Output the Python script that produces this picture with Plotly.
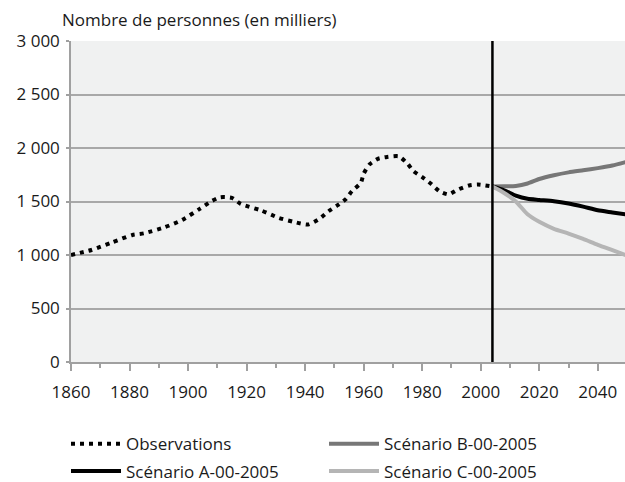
import plotly.graph_objects as go

obs_years = [1860, 1867, 1874, 1881, 1885, 1892, 1898, 1904, 1908, 1911, 1915, 1918, 1925, 1931, 1936, 1941, 1945, 1948, 1951, 1954, 1956, 1959, 1960, 1962, 1965, 1968, 1972, 1975, 1977, 1980, 1983, 1986, 1989, 1992, 1996, 1999, 2004]
obs_vals = [1000, 1047, 1118, 1187, 1203, 1259, 1328, 1431, 1503, 1540, 1534, 1478, 1416, 1347, 1310, 1285, 1340, 1409, 1463, 1525, 1597, 1672, 1760, 1847, 1900, 1916, 1922, 1853, 1784, 1728, 1666, 1594, 1566, 1609, 1650, 1659, 1640]

proj_years = [2004, 2008, 2012, 2016, 2020, 2025, 2030, 2035, 2040, 2045, 2050]
scen_a = [1640, 1605, 1555, 1525, 1515, 1503, 1482, 1452, 1418, 1398, 1378]
scen_b = [1640, 1642, 1645, 1668, 1710, 1745, 1772, 1792, 1812, 1836, 1872]
scen_c = [1640, 1580, 1500, 1380, 1310, 1245, 1200, 1150, 1095, 1045, 995]

base_year = 2004
y_title = "Nombre de personnes (en milliers)"

FONT = "Open Sans"
FS = 17
fig = go.Figure()

fig.add_trace(go.Scatter(x=obs_years, y=obs_vals, mode="lines", name="Observations", legend="legend",
                         line=dict(color="black", width=4, dash="4px,5px", shape="spline", smoothing=0.6)))
fig.add_trace(go.Scatter(x=proj_years, y=scen_b, mode="lines", name="Scénario B-00-2005", legend="legend",
                         line=dict(color="#777777", width=4, shape="spline", smoothing=0.6)))
fig.add_trace(go.Scatter(x=proj_years, y=scen_a, mode="lines", name="Scénario A-00-2005", legend="legend2",
                         line=dict(color="black", width=4, shape="spline", smoothing=0.6)))
fig.add_trace(go.Scatter(x=proj_years, y=scen_c, mode="lines", name="Scénario C-00-2005", legend="legend2",
                         line=dict(color="#b5b5b5", width=4, shape="spline", smoothing=0.6)))

fig.add_shape(type="line", x0=base_year, x1=base_year, y0=0, y1=3000, xref="x", yref="y",
              line=dict(color="black", width=2.5))

fig.add_annotation(text=y_title, xref="paper", yref="paper", x=-0.02, y=1.025,
                   xanchor="left", yanchor="bottom", showarrow=False,
                   font=dict(family=FONT, size=FS, color="#1a1a1a"))

leg_common = dict(orientation="h", xanchor="left", yanchor="top",
                  xref="container", yref="container",
                  entrywidth=193, entrywidthmode="pixels", itemwidth=50,
                  font=dict(family=FONT, size=FS, color="#1a1a1a"),
                  bgcolor="rgba(0,0,0,0)")

fig.update_layout(
    width=625, height=482,
    margin=dict(l=71, r=0, t=41, b=120, autoexpand=False),
    paper_bgcolor="white", plot_bgcolor="#f0f1f1",
    separators=". ",
    font=dict(family=FONT, size=FS, color="#1a1a1a"),
    showlegend=True,
    legend=dict(x=66 / 625, y=0.116, **leg_common),
    legend2=dict(x=66 / 625, y=0.059, **leg_common),
)
fig.update_xaxes(range=[1860, 2049.3], dtick=20, tick0=1860, showgrid=False, zeroline=False,
                 showline=True, linecolor="#a0a0a0", linewidth=1.5,
                 ticks="outside", ticklen=7, tickcolor="#a0a0a0", tickwidth=1.5,
                 ticklabelstandoff=7,
                 minor=dict(dtick=10, tick0=1860, ticks="outside", ticklen=4, tickcolor="#a0a0a0", tickwidth=1.5),
                 tickfont=dict(family=FONT, size=FS, color="#1a1a1a"))
fig.update_yaxes(range=[0, 3000], dtick=500, tickformat=",d", showgrid=True, gridcolor="#a8a8a8",
                 gridwidth=1.5, zeroline=False, showline=True, linecolor="#a0a0a0", linewidth=1.5,
                 ticks="outside", ticklen=3, tickcolor="#a0a0a0", tickwidth=1.5,
                 ticklabelstandoff=3,
                 tickfont=dict(family=FONT, size=FS, color="#1a1a1a"))

fig.write_html("out.html", config={"displayModeBar": False},
               post_script="document.body.style.margin='0';")
